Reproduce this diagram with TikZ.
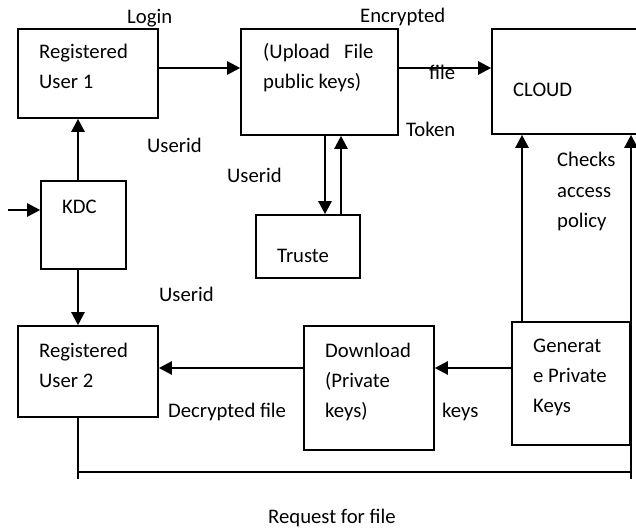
\documentclass[tikz,border=0pt]{standalone}
\usepackage{fontspec}
\setmainfont{Carlito}
\usetikzlibrary{arrows.meta,calc}
\begin{document}
\begin{tikzpicture}[x=1pt,y=-1pt,
  box/.style={draw,line width=1.6pt,inner sep=0pt},
  lbl/.style={anchor=base west,inner sep=0pt,font=\fontsize{20.7}{30}\selectfont},
  arr/.style={line width=2.4pt,-{Triangle[length=13pt,width=13pt]}},
  plain/.style={line width=1.8pt}]
\useasboundingbox[fill=white] (0,0) rectangle (636,529);
% boxes
\node[box,minimum width=140pt,minimum height=89pt] (ru1) at (88,73.5) {};
\node[box,minimum width=157pt,minimum height=106pt] (upload) at (319.5,82) {};
\node[box,minimum width=148pt,minimum height=105pt] (cloud) at (566,81.5) {};
\node[box,minimum width=85pt,minimum height=88pt] (kdc) at (83.5,225) {};
\node[box,minimum width=104pt,minimum height=63pt] (truste) at (308,246.5) {};
\node[box,minimum width=140pt,minimum height=91pt] (ru2) at (88,371.5) {};
\node[box,minimum width=130pt,minimum height=124pt] (download) at (369,388) {};
\node[box,minimum width=118pt,minimum height=123pt] (generate) at (571,383.5) {};
% box texts
\node[lbl] (t1a) at (39,59) {Registered};
\node[lbl] (t1b) at (39,89) {User 1};
\node[lbl] (t2a) at (263,59) {(Upload\ \ \ File};
\node[lbl] (t2b) at (263,89) {public keys)};
\node[lbl] (t3) at (513,97) {CLOUD};
\node[lbl] (t4) at (62,213) {KDC};
\node[lbl] (t5) at (277,262) {Truste};
\node[lbl] (t6a) at (39,357) {Registered};
\node[lbl] (t6b) at (39,387) {User 2};
\node[lbl] (t7a) at (325,357) {Download};
\node[lbl] (t7b) at (325,387) {(Private};
\node[lbl] (t7c) at (325,417) {keys)};
\node[lbl] (t8a) at (533,352) {Generat};
\node[lbl] (t8b) at (533,382) {e Private};
\node[lbl] (t8c) at (533,412) {Keys};
% connector labels
\node[lbl] (l1) at (127,24) {Login};
\node[lbl] (l2) at (360,23) {Encrypted};
\node[lbl] (l3) at (429,80) {file};
\node[lbl] (l4) at (406,137) {Token};
\node[lbl] (l5) at (147,153) {Userid};
\node[lbl] (l6) at (227,183) {Userid};
\node[lbl] (l7) at (159,301) {Userid};
\node[lbl] (l8a) at (557,167) {Checks};
\node[lbl] (l8b) at (557,197) {access};
\node[lbl] (l8c) at (557,227) {policy};
\node[lbl] (l9) at (168,417) {Decrypted file};
\node[lbl] (l10) at (442,417) {keys};
\node[lbl] (l11) at (268,523) {Request for file};
% free-end coordinates
\coordinate (in) at (8,210);
\coordinate (rq1) at (78,479);
\coordinate (rq2) at (78,472);
\coordinate (rq3) at (631,472);
\coordinate (rq4) at (631,479);
% connectors
\draw[arr] (ru1.east |- 0,68) -- (upload.west |- 0,68);
\draw[arr] (upload.east |- 0,68) -- (cloud.west |- 0,68);
\draw[arr] (kdc.north -| 78,0) -- (ru1.south -| 78,0);
\draw[arr] (kdc.south -| 78,0) -- (ru2.north -| 78,0);
\draw[arr] (in) -- (kdc.west |- in);
\draw[arr] (upload.south -| 325,0) -- (truste.north -| 325,0);
\draw[arr] (truste.north -| 341,0) -- (upload.south -| 341,0);
\draw[arr] (generate.north -| 522,0) -- (cloud.south -| 522,0);
\draw[arr] (generate.west |- 0,368) -- (download.east |- 0,368);
\draw[arr] (download.west |- 0,368) -- (ru2.east |- 0,368);
\draw[plain] (ru2.south -| rq1) -- (rq1);
\draw[plain] (rq2) -- (rq3);
\draw[arr] (rq4) -- (cloud.south -| rq4);
\end{tikzpicture}
\end{document}
